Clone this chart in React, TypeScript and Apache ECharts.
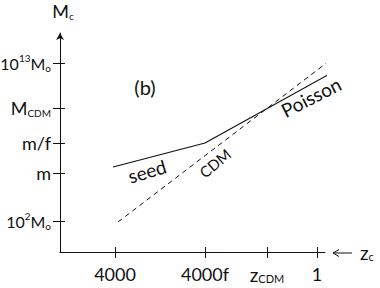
import React, { useEffect, useRef } from "react";
import * as echarts from "echarts";

// Schematic axes (positions along each axis, arbitrary log units)
const xTickValues = [55, 145, 207, 257];
const xTickLabels = ["4000", "4000f", "{z|z}{s|CDM}", "1"];
const yTickValues = [31, 79, 109, 144, 189];
const yTickLabels = [
  "{d|10}{sup|2}{d|M}{sub|o}",
  "{n|m}",
  "{n|m/f}",
  "{n|M}{sub|CDM}",
  "{d|10}{sup|13}{d|M}{sub|o}",
];

// seed -> Poisson solid line
const seedX = [53, 145, 282];
const seedY = [85, 109, 185];
// CDM dashed line
const cdmX = [58, 277];
const cdmY = [30, 197];

const FONT = "Lato";
const INK = "#111";

export default function App() {
  const ref = useRef<HTMLDivElement>(null);
  useEffect(() => {
    document.body.style.margin = "0";
    const chart = echarts.init(ref.current!, null, { renderer: "svg" });
    const rich = {
      n: { fontSize: 18, fontFamily: FONT, color: INK, lineHeight: 20 },
      d: { fontSize: 16, fontFamily: FONT, color: INK, lineHeight: 20 },
      z: { fontSize: 19, fontFamily: FONT, color: INK, lineHeight: 20 },
      sup: { fontSize: 10, fontFamily: FONT, color: INK, lineHeight: 12, verticalAlign: "top" },
      sub: { fontSize: 10, fontFamily: FONT, color: INK, lineHeight: 12, verticalAlign: "bottom" },
      s: { fontSize: 11, fontFamily: FONT, color: INK, lineHeight: 12, verticalAlign: "bottom" },
    };
    const axisLineStyle = { color: INK, width: 1 };
    chart.setOption({
      animation: false,
      grid: { left: 60, right: 55, top: 33, bottom: 36, outerBoundsMode: "none", containLabel: false },
      xAxis: [
        {
          type: "value",
          min: 0,
          max: 265,
          name: "{z|z}{s|c}",
          nameLocation: "end",
          nameGap: 35,
          nameTextStyle: { rich, fontFamily: FONT },
          axisLine: { show: true, lineStyle: axisLineStyle },
          axisTick: { show: true, inside: false, length: 6, customValues: xTickValues, lineStyle: axisLineStyle },
          axisLabel: {
            show: true,
            margin: 12,
            customValues: xTickValues,
            hideOverlap: false,
            formatter: (v: number) => {
              const i = xTickValues.indexOf(v);
              const t = xTickLabels[i] ?? "";
              return t.startsWith("{") ? t : `{n|${t}}`;
            },
            rich,
          },
          splitLine: { show: false },
        },
        {
          type: "value",
          position: "bottom",
          min: 0,
          max: 265,
          axisLine: { show: false },
          axisTick: { show: true, inside: true, length: 5, customValues: xTickValues, lineStyle: axisLineStyle },
          axisLabel: { show: false },
          splitLine: { show: false },
        },
      ],
      yAxis: [
        {
          type: "value",
          min: 0,
          max: 219,
          name: "{n|M}{sub|c}",
          nameLocation: "end",
          nameGap: 12,
          nameTextStyle: { rich, fontFamily: FONT, padding: [0, 0, 0, 6] },
          axisLine: {
            show: true,
            lineStyle: axisLineStyle,
            symbol: ["none", "arrow"],
            symbolSize: [6, 7],
          },
          axisTick: { show: true, inside: false, length: 7, customValues: yTickValues, lineStyle: axisLineStyle },
          axisLabel: {
            show: true,
            margin: 9,
            customValues: yTickValues,
            hideOverlap: false,
            formatter: (v: number) => yTickLabels[yTickValues.indexOf(v)] ?? "",
            rich,
          },
          splitLine: { show: false },
        },
        {
          type: "value",
          position: "left",
          min: 0,
          max: 219,
          axisLine: { show: false },
          axisTick: { show: true, inside: true, length: 5, customValues: yTickValues, lineStyle: axisLineStyle },
          axisLabel: { show: false },
          splitLine: { show: false },
        },
      ],
      series: [
        {
          name: "seed / Poisson",
          type: "line",
          clip: false,
          symbol: "none",
          lineStyle: { color: INK, width: 1.2 },
          data: seedX.map((x, i) => [x, seedY[i]]),
        },
        {
          name: "CDM",
          type: "line",
          clip: false,
          symbol: "none",
          lineStyle: { color: INK, width: 1, type: [5, 4] },
          data: cdmX.map((x, i) => [x, cdmY[i]]),
        },
      ],
      graphic: [
        { type: "line", shape: { x1: 333, y1: 253, x2: 352, y2: 253 }, style: { stroke: INK, lineWidth: 1 } },
        {
          type: "polyline",
          shape: { points: [[339, 249.5], [333, 253], [339, 256.5]] },
          style: { stroke: INK, lineWidth: 1, fill: "none" },
        },
        {
          type: "text",
          x: 145,
          y: 87,
          style: { text: "(b)", font: `20px ${FONT}`, fill: INK, align: "center", verticalAlign: "middle" },
        },
        {
          type: "text",
          x: 147,
          y: 171,
          rotation: 0.29,
          style: { text: "seed", font: `19px ${FONT}`, fill: INK, align: "center", verticalAlign: "middle" },
        },
        {
          type: "text",
          x: 215,
          y: 163,
          rotation: 0.7,
          style: { text: "CDM", font: `15px ${FONT}`, fill: INK, align: "center", verticalAlign: "middle" },
        },
        {
          type: "text",
          x: 311,
          y: 97,
          rotation: 0.47,
          style: { text: "Poisson", font: `19px ${FONT}`, fill: INK, align: "center", verticalAlign: "middle" },
        },
      ],
    });
    return () => chart.dispose();
  }, []);
  return <div ref={ref} style={{ width: 380, height: 288 }} />;
}
